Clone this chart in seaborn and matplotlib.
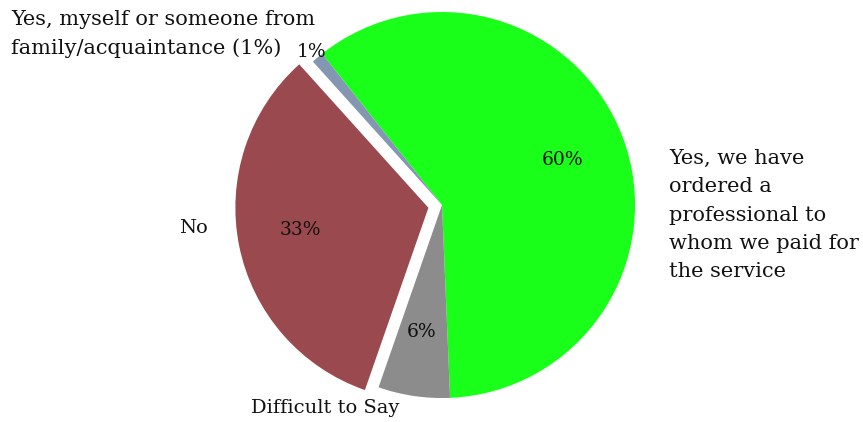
import matplotlib
matplotlib.use("Agg")
import matplotlib.pyplot as plt
import seaborn as sns

# Survey answers, going counter-clockwise from the bottom of the pie
categories = [
    "Yes, we have\nordered a\nprofessional to\nwhom we paid for\nthe service",
    "Yes, myself or someone from\nfamily/acquaintance (1%)",
    "No",
    "Difficult to Say",
]
shares = [60, 1, 33, 6]
pct_labels = ["60%", "1%", "33%", "6%"]
colors = ["#1aff1a", "#8497b0", "#9a4a4f", "#8c8c8c"]

sns.set_theme(style="white")
plt.rcParams["font.family"] = ["DejaVu Serif"]

fig = plt.figure(figsize=(8.63, 4.22), dpi=100)
ax = fig.add_axes([0, 0, 1, 1])

explode = [0, 0, 0.072, 0]
wedges, _ = ax.pie(
    shares,
    colors=colors,
    startangle=272.4,
    counterclock=True,
    explode=explode,
    wedgeprops=dict(linewidth=0),
)

ax.set_xlim(-2.290, 2.181)
ax.set_ylim(-1.124, 1.062)
ax.set_aspect("equal")
ax.axis("off")

# Percentages on / next to the slices
pct_pos = [(0.622, 0.233), (-0.674, 0.793), (-0.736, -0.130), (-0.104, -0.658)]
for (x, y), t in zip(pct_pos, pct_labels):
    ax.text(x, y, t, ha="center", va="center", fontsize=13.5, color="#111111")

# Category names
ax.text(1.176, -0.052, categories[0], ha="left", va="center",
        fontsize=15, linespacing=1.62, color="#111111")

# the two-line label in the upper left is drawn line by line so its box
# stays clear of the small percentage beside it
for line, y in zip(categories[1].split("\n"), [0.959, 0.813]):
    ax.text(-2.233, y, line, ha="left", va="center",
            fontsize=15, color="#111111")

ax.text(-1.290, -0.119, categories[2], ha="center", va="center",
        fontsize=14, color="#111111")
ax.text(-0.606, -1.052, categories[3], ha="center", va="center",
        fontsize=14, color="#111111")

fig.savefig("out.png", dpi=100, facecolor="white")
